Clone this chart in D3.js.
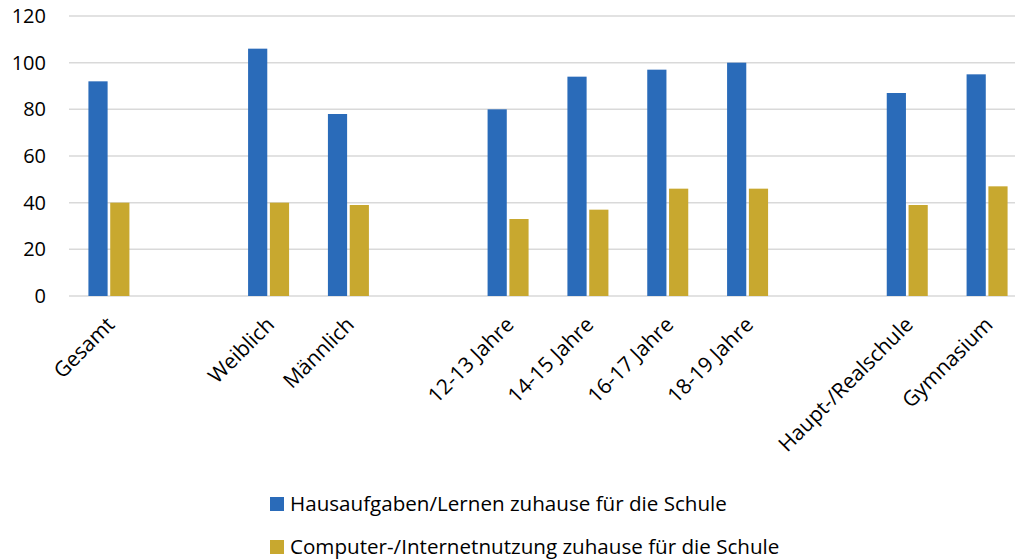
<!DOCTYPE html>
<html>
<head>
<meta charset="utf-8">
<script src="https://cdn.jsdelivr.net/npm/d3@7"></script>
<style>
  body { margin: 0; background: #fff; }
  text { font-family: "Open Sans", sans-serif; fill: #000; }
</style>
</head>
<body>
<div id="chart-area"></div>
<script>
// categories (blank slots are gaps between groups)
var categories = ["Gesamt", "", "Weiblich", "Männlich", " ", "12-13 Jahre", "14-15 Jahre",
                  "16-17 Jahre", "18-19 Jahre", "  ", "Haupt-/Realschule", "Gymnasium"];
var hausaufgaben = [92, null, 106, 78, null, 80, 94, 97, 100, null, 87, 95];
var computer     = [40, null, 40, 39, null, 33, 37, 46, 46, null, 39, 47];
var seriesNames = ["Hausaufgaben/Lernen zuhause für die Schule",
                   "Computer-/Internetnutzung zuhause für die Schule"];
var colors = ["#2A6BB9", "#C8A82F"];
var yTicks = [0, 20, 40, 60, 80, 100, 120];

var width = 1015, height = 559;

var svg = d3.select("#chart-area")
    .append("svg")
        .attr("width", width)
        .attr("height", height);

var x = d3.scaleBand()
    .domain(categories)
    .range([69, 1027]);

var y = d3.scaleLinear()
    .domain([0, 120])
    .range([296, 16]);

var xSub = d3.scaleBand()
    .domain([0, 1])
    .range([0, 41])
    .paddingInner(0.12);

// gridlines
svg.append("g")
    .selectAll("line")
    .data(yTicks)
    .enter()
    .append("line")
        .attr("x1", 69)
        .attr("x2", 1027)
        .attr("y1", function(d){ return y(d); })
        .attr("y2", function(d){ return y(d); })
        .attr("stroke", "#d9d9d9")
        .attr("stroke-width", 1.5);

// y axis labels
var yAxisCall = d3.axisLeft(y)
    .tickValues(yTicks)
    .tickSize(0)
    .tickPadding(0);

var yAxis = svg.append("g")
    .attr("transform", "translate(46, 0)")
    .call(yAxisCall);
yAxis.select(".domain").remove();
yAxis.selectAll("text")
    .attr("font-family", "Open Sans, sans-serif")
    .attr("font-size", "20px")
    .attr("fill", "#000");

// bars
var groupOffset = (x.bandwidth() - 41) / 2;
[hausaufgaben, computer].forEach(function(series, si){
    svg.append("g")
        .selectAll("rect")
        .data(categories.map(function(c, i){ return { cat: c, v: series[i] }; })
              .filter(function(d){ return d.v != null; }))
        .enter()
        .append("rect")
            .attr("x", function(d){ return x(d.cat) + groupOffset + xSub(si); })
            .attr("y", function(d){ return y(d.v); })
            .attr("width", xSub.bandwidth())
            .attr("height", function(d){ return y(0) - y(d.v); })
            .attr("fill", colors[si]);
});

// x labels
var xAxisCall = d3.axisBottom(x)
    .tickSize(0)
    .tickPadding(0);

var xAxis = svg.append("g")
    .attr("transform", "translate(0, 296)")
    .call(xAxisCall);
xAxis.select(".domain").remove();
xAxis.selectAll("text")
    .attr("font-family", "Open Sans, sans-serif")
    .attr("font-size", "21px")
    .attr("fill", "#000")
    .attr("text-anchor", "end")
    .attr("dy", 0)
    .attr("y", 0)
    .attr("transform", "translate(7, 30) rotate(-45)");

// legend
var legend = svg.append("g");
seriesNames.forEach(function(name, i){
    var row = legend.append("g")
        .attr("transform", "translate(270, " + (497 + i * 43) + ")");
    row.append("rect")
        .attr("width", 14)
        .attr("height", 14)
        .attr("fill", colors[i]);
    row.append("text")
        .attr("x", 20)
        .attr("y", 14)
        .attr("font-size", "20.6px")
        .text(name);
});
</script>
</body>
</html>
